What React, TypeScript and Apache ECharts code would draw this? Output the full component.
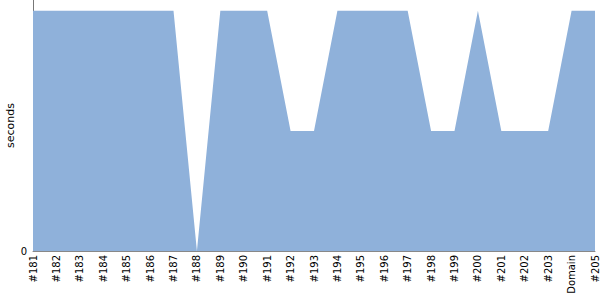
import React, { useEffect, useRef } from "react";
import * as echarts from "echarts";

const categories = [
  "#181", "#182", "#183", "#184", "#185", "#186", "#187", "#188", "#189", "#190",
  "#191", "#192", "#193", "#194", "#195", "#196", "#197", "#198", "#199", "#200",
  "#201", "#202", "#203", "Domain", "#205",
];
const seconds = [
  2, 2, 2, 2, 2, 2, 2, 0, 2, 2,
  2, 1, 1, 2, 2, 2, 2, 1, 1, 2,
  1, 1, 1, 2, 2,
];

export default function App() {
  const ref = useRef<HTMLDivElement>(null);
  useEffect(() => {
    document.body.style.margin = "0";
    if (!ref.current) return;
    const chart = echarts.init(ref.current, undefined, { renderer: "svg" });
    chart.setOption({
      animation: false,
      grid: { left: 33, right: 5, top: 0, bottom: 49, containLabel: false, outerBoundsMode: "none" },
      xAxis: {
        type: "category",
        data: categories,
        boundaryGap: false,
        axisLine: { lineStyle: { color: "#888", width: 1 } },
        axisTick: { show: false },
        axisLabel: {
          rotate: 90,
          interval: 0,
          color: "#000",
          fontSize: 10,
          fontFamily: "DejaVu Sans",
          margin: 4,
        },
        splitLine: { show: false },
      },
      yAxis: {
        type: "value",
        min: 0,
        max: 2.09,
        interval: 2.09,
        name: "seconds",
        nameLocation: "middle",
        nameGap: 17,
        nameMoveOverlap: false,
        nameTextStyle: { color: "#000", fontSize: 11, fontFamily: "DejaVu Sans" },
        axisLine: { show: true, lineStyle: { color: "#777", width: 1 } },
        axisTick: { show: false },
        splitLine: { show: false },
        axisLabel: {
          color: "#000",
          fontSize: 10,
          fontFamily: "DejaVu Sans",
          margin: 6,
          formatter: (v: number) => (v === 0 ? "0" : ""),
        },
      },
      series: [
        {
          type: "line",
          data: seconds,
          symbol: "none",
          lineStyle: { width: 0 },
          areaStyle: { color: "#8fb1da", opacity: 1 },
        },
      ],
    });
    return () => chart.dispose();
  }, []);
  return <div ref={ref} style={{ width: 600, height: 300 }} />;
}
